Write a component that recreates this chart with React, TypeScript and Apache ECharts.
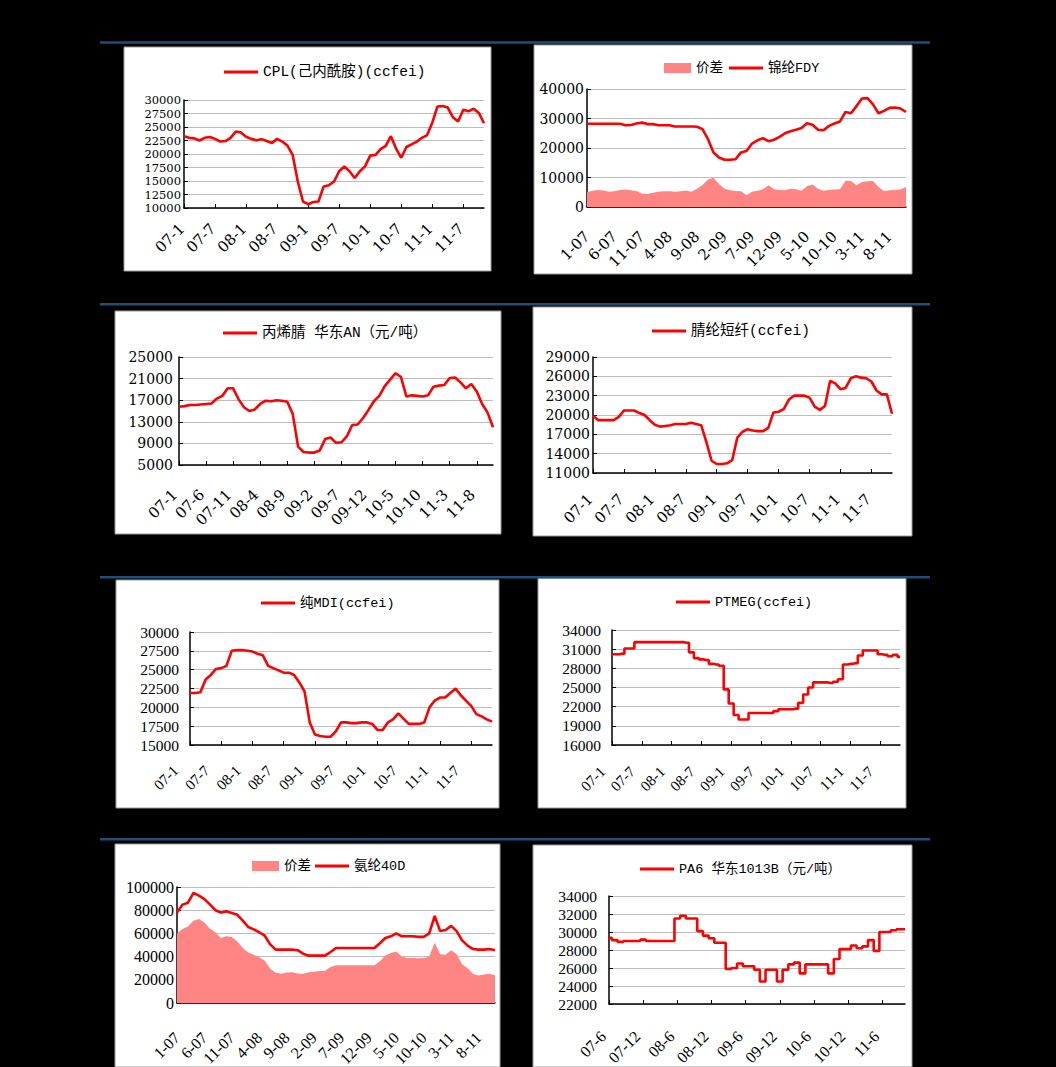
import { useEffect, useRef } from 'react';
import * as echarts from 'echarts';

// ---------- categories / tick labels ----------
function monthCats(y0: number, m0: number, n: number, yearFirst: boolean): string[] {
  const out: string[] = [];
  let y = y0;
  let m = m0;
  for (let i = 0; i < n; i++) {
    const yy = String(y).padStart(2, '0');
    out.push(yearFirst ? `${yy}-${m}` : `${m}-${yy}`);
    m++;
    if (m > 12) { m = 1; y++; }
  }
  return out;
}
const MONTHS_YM = monthCats(7, 1, 59, true);   // 07-1 ... 11-11
const MONTHS_MY = monthCats(7, 1, 59, false);  // 1-07 ... 11-11
const MONTHS_PA6 = monthCats(7, 6, 53, true);  // 07-6 ... 11-10

// ---------- series values ----------
const CPL = [23300, 23000, 22900, 22500, 23000, 23150, 22800, 22300, 22400, 23000,
  24150, 24000, 23200, 22800, 22550, 22750, 22400, 22050, 22800, 22300,
  21550, 19850, 14900, 11200, 10700, 11100, 11200, 14000, 14200, 14900,
  16800, 17700, 16800, 15550, 16800, 17700, 19700, 19800, 20900, 21500,
  23300, 21000, 19300, 21300, 21800, 22300, 23000, 23500, 25800, 28800,
  28900, 28600, 26800, 26000, 28200, 27900, 28400, 27600, 25700];

const FDY = [28200, 28200, 28200, 28200, 28200, 28200, 28200, 27700, 27800, 28300,
  28600, 28100, 28100, 27700, 27700, 27700, 27300, 27300, 27300, 27300,
  27200, 26400, 23000, 18500, 16800, 16000, 16000, 16200, 18500, 19000,
  21500, 22600, 23300, 22300, 22800, 23800, 25000, 25700, 26200, 26800,
  28400, 27900, 26200, 26000, 27500, 28300, 29000, 32200, 31800, 34200,
  36800, 36900, 34800, 31800, 32600, 33600, 33700, 33400, 32200];

const FDY_SPREAD = [5000, 5500, 5800, 5600, 5200, 5300, 5800, 5900, 5700, 5400,
  4600, 4400, 4800, 5200, 5300, 5300, 5200, 5300, 5600, 5200,
  6200, 7500, 9300, 9900, 7800, 6200, 5700, 5400, 5300, 4000,
  5200, 5500, 6000, 7400, 6000, 5800, 5700, 6200, 6000, 5500,
  7000, 7600, 6200, 5500, 5800, 5900, 6000, 8900, 8800, 7400,
  8500, 8700, 8800, 6800, 5300, 5700, 5800, 5900, 6800];

const AN = [15800, 15900, 16100, 16100, 16200, 16300, 16400, 17300, 17800, 19200,
  19200, 17200, 15700, 15000, 15300, 16300, 16900, 16800, 17000, 16900,
  16700, 14500, 8400, 7400, 7300, 7300, 7700, 9800, 10100, 9100,
  9200, 10300, 12400, 12500, 13700, 15200, 16800, 17800, 19600, 20800,
  22000, 21300, 17700, 17900, 17800, 17700, 17900, 19500, 19700, 19800,
  21100, 21200, 20300, 19200, 20000, 18600, 16300, 14700, 12000];

const ACRYLIC = [19900, 19200, 19200, 19200, 19200, 19700, 20700, 20700, 20700, 20300,
  20000, 19200, 18500, 18200, 18300, 18400, 18600, 18600, 18600, 18800,
  18600, 18400, 15800, 12900, 12400, 12400, 12500, 13000, 16500, 17400,
  17800, 17600, 17500, 17500, 18000, 20400, 20500, 20900, 22400, 23000,
  23000, 23000, 22700, 21300, 20800, 21400, 25300, 24900, 24000, 24200,
  25700, 26000, 25800, 25700, 25200, 23800, 23200, 23200, 20200];

const MDI = [21900, 21900, 22000, 23700, 24300, 25100, 25200, 25500, 27500, 27600,
  27600, 27500, 27400, 27100, 26900, 25500, 25200, 24900, 24600, 24600,
  24300, 23300, 22100, 18000, 16400, 16200, 16100, 16100, 16800, 18000,
  18000, 17900, 17900, 18000, 18000, 17800, 17000, 17000, 18000, 18400,
  19200, 18500, 17800, 17800, 17800, 18000, 20000, 20900, 21300, 21300,
  21900, 22500, 21600, 20900, 20200, 19100, 18800, 18400, 18100];

const PTMEG = [30200, 30200, 30300, 31100, 31100, 32100, 32100, 32100, 32100, 32100,
  32100, 32100, 32100, 32100, 32100, 32000, 30500, 29600, 29400, 29300,
  28700, 28600, 28400, 24700, 22500, 20700, 20000, 20000, 21000, 21000,
  21000, 21000, 21000, 21300, 21600, 21600, 21600, 21700, 22600, 23900,
  25000, 25800, 25800, 25800, 25700, 25900, 26300, 28600, 28700, 28800,
  30000, 30800, 30800, 30800, 30200, 30100, 29900, 30100, 29800];

const SPANDEX = [78000, 84800, 86500, 95000, 92500, 89500, 85000, 80000, 78000, 79000,
  77600, 76000, 71000, 65500, 63500, 61000, 58000, 50500, 46000, 46000,
  46000, 46000, 45500, 42500, 40800, 40800, 40800, 40800, 44000, 47400,
  47400, 47400, 47400, 47400, 47400, 47400, 47400, 51500, 56000, 57500,
  60000, 57500, 57500, 57500, 57000, 57000, 60000, 75000, 62000, 63000,
  66500, 62000, 54000, 49500, 46500, 46000, 46000, 46600, 45400];

const SPANDEX_SPREAD = [60000, 63800, 66000, 71000, 72500, 69500, 64000, 61000, 56000, 57500,
  57000, 53000, 47500, 43500, 41500, 39500, 36500, 29500, 26000, 25300,
  26400, 26500, 25500, 25000, 26500, 27000, 27500, 27900, 31000, 32500,
  32500, 32500, 32500, 32500, 32500, 32500, 32500, 36000, 41000, 43000,
  44500, 40000, 38800, 38800, 38500, 38800, 40000, 52000, 42000, 41700,
  45500, 42000, 33500, 30000, 25000, 23800, 24500, 25300, 24000];

const PA6 = [29350, 29100, 28900, 29000, 29000, 29000, 29150, 29000, 29000, 29000,
  29000, 29000, 31500, 31800, 31500, 31500, 30100, 29600, 29300, 28800,
  28800, 25900, 26000, 26500, 26200, 26200, 25800, 24500, 25800, 25800,
  24500, 25800, 26400, 26600, 25400, 26400, 26400, 26400, 26400, 25400,
  27000, 28100, 28100, 28500, 28200, 28400, 29100, 27900, 30000, 30000,
  30200, 30300, 30300];

// ---------- names ----------
const N_CPL = 'CPL(己内酰胺)(ccfei)';
const N_SPREAD = '价差';
const N_FDY = '锦纶FDY';
const N_AN = '丙烯腈 华东AN（元/吨）';
const N_ACR = '腈纶短纤(ccfei)';
const N_MDI = '纯MDI(ccfei)';
const N_PTMEG = 'PTMEG(ccfei)';
const N_SPX = '氨纶40D';
const N_PA6 = 'PA6 华东1013B（元/吨）';

// ---------- styling / layout ----------
const RED = '#FF0000';
const PINK = '#FF8484';
const FONT_A = "'DejaVu Serif', 'Noto Sans CJK SC', serif";
const FONT_B = "'Liberation Serif', 'Noto Sans CJK SC', serif";
const FONT_LEG = "'Liberation Mono', 'Noto Sans CJK SC', monospace";

type Chart = {
  cats: string[];
  every: number;
  yMin: number; yMax: number; yStep: number;
  grid: number[];
  font: string; yFont: number; xFont: number; yMargin: number;
  xMargin: number; xPad: number;
  lines: { name: string; data: number[]; step?: boolean }[];
  areas: { name: string; data: number[] }[];
};

const CHARTS: Chart[] = [
  { cats: MONTHS_YM, every: 6, yMin: 10000, yMax: 30000, yStep: 2500, grid: [184, 100, 300, 108],
    font: FONT_A, yFont: 11.5, xFont: 15, yMargin: 3, xMargin: 16, xPad: 3,
    lines: [{ name: N_CPL, data: CPL }], areas: [] },
  { cats: MONTHS_MY, every: 5, yMin: 0, yMax: 40000, yStep: 10000, grid: [587, 89, 319, 118],
    font: FONT_A, yFont: 14, xFont: 15, yMargin: 3, xMargin: 27, xPad: 0,
    lines: [{ name: N_FDY, data: FDY }], areas: [{ name: N_SPREAD, data: FDY_SPREAD }] },
  { cats: MONTHS_YM, every: 5, yMin: 5000, yMax: 25000, yStep: 4000, grid: [179, 357, 314, 108],
    font: FONT_A, yFont: 14, xFont: 15, yMargin: 6, xMargin: 23, xPad: 6,
    lines: [{ name: N_AN, data: AN }], areas: [] },
  { cats: MONTHS_YM, every: 6, yMin: 11000, yMax: 29000, yStep: 3000, grid: [593, 357, 299, 116],
    font: FONT_A, yFont: 14, xFont: 15, yMargin: 3, xMargin: 21, xPad: 4,
    lines: [{ name: N_ACR, data: ACRYLIC }], areas: [] },
  { cats: MONTHS_YM, every: 6, yMin: 15000, yMax: 30000, yStep: 2500, grid: [190, 632, 302, 113],
    font: FONT_B, yFont: 15.5, xFont: 15, yMargin: 11, xMargin: 9, xPad: 20,
    lines: [{ name: N_MDI, data: MDI }], areas: [] },
  { cats: MONTHS_YM, every: 6, yMin: 16000, yMax: 34000, yStep: 3000, grid: [612, 630, 288, 115],
    font: FONT_B, yFont: 15.5, xFont: 15, yMargin: 11, xMargin: 15, xPad: 13,
    lines: [{ name: N_PTMEG, data: PTMEG, step: true }], areas: [] },
  { cats: MONTHS_MY, every: 5, yMin: 0, yMax: 100000, yStep: 20000, grid: [177, 887, 318, 116],
    font: FONT_B, yFont: 16, xFont: 16, yMargin: 3, xMargin: 32, xPad: 0,
    lines: [{ name: N_SPX, data: SPANDEX }], areas: [{ name: N_SPREAD, data: SPANDEX_SPREAD }] },
  { cats: MONTHS_PA6, every: 6, yMin: 22000, yMax: 34000, yStep: 2000, grid: [609, 896, 296, 108],
    font: FONT_B, yFont: 15.5, xFont: 16, yMargin: 12, xMargin: 24, xPad: 8,
    lines: [{ name: N_PA6, data: PA6, step: true }], areas: [] },
];

const PANEL_RECTS = [
  [124, 47, 367, 224], [534, 45, 378, 229],
  [115, 311, 386, 223], [533, 307, 379, 229],
  [116, 580, 383, 228], [538, 578, 368, 230],
  [115, 844, 385, 223], [533, 845, 379, 222],
];
const BLUE_LINES_Y = [42.5, 304.3, 577.3, 839.3];

type Leg = { name: string; left: number; cy: number; area?: boolean; size: number };
const LEGENDS: Leg[] = [
  { name: N_CPL, left: 224, cy: 72, size: 14.5 },
  { name: N_SPREAD, left: 664, cy: 68, area: true, size: 13.5 },
  { name: N_FDY, left: 729, cy: 68, size: 13.5 },
  { name: N_AN, left: 223, cy: 333, size: 14.5 },
  { name: N_ACR, left: 652, cy: 331, size: 14.5 },
  { name: N_MDI, left: 261, cy: 603, size: 13.5 },
  { name: N_PTMEG, left: 676, cy: 602, size: 13.5 },
  { name: N_SPREAD, left: 252, cy: 866, area: true, size: 13.5 },
  { name: N_SPX, left: 315, cy: 866, size: 13.5 },
  { name: N_PA6, left: 640, cy: 869, size: 13.5 },
];

function buildOption() {
  const grid: any[] = [];
  const xAxis: any[] = [];
  const yAxis: any[] = [];
  const series: any[] = [];
  CHARTS.forEach((c, i) => {
    grid.push({ left: c.grid[0], top: c.grid[1], width: c.grid[2], height: c.grid[3],
      containLabel: false, outerBoundsMode: 'none' });
    xAxis.push({
      type: 'category', gridIndex: i, data: c.cats, boundaryGap: false,
      axisLine: { show: true, lineStyle: { color: '#000', width: 1.5 } },
      axisTick: { show: true, inside: true, length: 4, interval: c.every - 1, lineStyle: { color: '#000', width: 1 } },
      axisLabel: { interval: c.every - 1, rotate: 45, margin: c.xMargin, padding: [0, c.xPad, 0, 0],
        fontFamily: c.font, fontSize: c.xFont, color: '#000' },
      splitLine: { show: false },
    });
    // visible label axis (ticks counted from 0) and hidden data axis
    yAxis.push({
      type: 'value', gridIndex: i, min: 0, max: c.yMax - c.yMin, interval: c.yStep, position: 'left',
      axisLine: { show: true, lineStyle: { color: '#000', width: 1.5 } },
      axisTick: { show: true, inside: true, length: 4, lineStyle: { color: '#000', width: 1 } },
      axisLabel: { margin: c.yMargin, fontFamily: c.font, fontSize: c.yFont, color: '#000',
        showMinLabel: true, showMaxLabel: true, hideOverlap: false,
        formatter: (v: number) => String(v + c.yMin) },
      splitLine: { show: true, lineStyle: { color: '#BDBDBD', width: 1 } },
    });
    yAxis.push({ type: 'value', gridIndex: i, min: c.yMin, max: c.yMax, show: false });
    const yIdx = 2 * i + 1;
    c.areas.forEach((a) => {
      series.push({
        type: 'line', name: a.name, xAxisIndex: i, yAxisIndex: yIdx, data: a.data,
        symbol: 'none', showSymbol: false, lineStyle: { width: 0, color: PINK },
        areaStyle: { color: PINK, opacity: 1 }, itemStyle: { color: PINK }, z: 2,
      });
    });
    c.lines.forEach((l) => {
      series.push({
        type: 'line', name: l.name, xAxisIndex: i, yAxisIndex: yIdx, data: l.data,
        symbol: 'none', showSymbol: false, step: l.step ? 'middle' : false,
        lineStyle: { width: 2.6, color: RED }, itemStyle: { color: RED }, z: 3,
      });
    });
  });

  const legend = LEGENDS.map((l) => ({
    left: l.left, top: l.cy - 8, padding: 0, selectedMode: false, orient: 'horizontal',
    itemWidth: l.area ? 27 : 34, itemHeight: l.area ? 10 : 3, itemGap: 8,
    data: [{ name: l.name, icon: 'rect' }],
    textStyle: { fontFamily: FONT_LEG, fontSize: l.size, color: '#000', lineHeight: 16 },
  }));

  const elements: any[] = [];
  PANEL_RECTS.forEach((r) => {
    elements.push({ type: 'rect', silent: true, z: -10,
      shape: { x: r[0], y: r[1], width: r[2], height: r[3] },
      style: { fill: '#FFFFFF', stroke: '#9A9A9A', lineWidth: 1 } });
  });
  BLUE_LINES_Y.forEach((y) => {
    elements.push({ type: 'rect', silent: true, z: -10,
      shape: { x: 100, y: y - 1.2, width: 830, height: 2.4 },
      style: { fill: '#1F4E79' } });
  });

  return {
    animation: false,
    backgroundColor: '#000000',
    graphic: { elements },
    grid, xAxis, yAxis, series, legend,
  };
}

export default function App() {
  const ref = useRef<HTMLDivElement>(null);
  useEffect(() => {
    if (!ref.current) return;
    const chart = echarts.init(ref.current, undefined, { renderer: 'svg' });
    chart.setOption(buildOption() as any);
    return () => chart.dispose();
  }, []);
  return (
    <div ref={ref} style={{ position: 'absolute', left: 0, top: 0, width: 1056, height: 1067 }} />
  );
}
